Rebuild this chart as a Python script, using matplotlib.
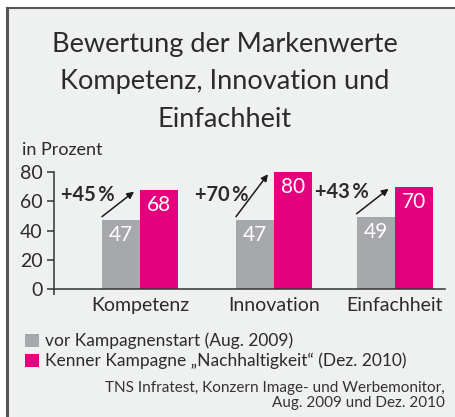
import numpy as np
import matplotlib.pyplot as plt
from matplotlib.lines import Line2D
from matplotlib.patches import Rectangle

plt.rcParams['font.family'] = ['Lato', 'DejaVu Sans']

categories = ['Kompetenz', 'Innovation', 'Einfachheit']
x_pos = np.array([0.0, 1.0, 1.9])
vor = [47, 47, 49]
kenner = [68, 80, 70]
change = ['+45\u2009%', '+70\u2009%', '+43\u2009%']
series_names = ['vor Kampagnenstart (Aug. 2009)',
                'Kenner Kampagne \u201eNachhaltigkeit\u201c (Dez. 2010)']
title = 'Bewertung der Markenwerte\nKompetenz, Innovation und\nEinfachheit'
source = 'TNS Infratest, Konzern Image- und Werbemonitor,\nAug. 2009 und Dez. 2010'

gray = '#a7a8ab'
pink = '#e5007d'
txt = '#2b2b2b'
bg = '#eef1f0'

W, H = 455, 417
fig = plt.figure(figsize=(W / 100, H / 100), dpi=100, facecolor='white')

# panel with left and top border
fig.patches.append(Rectangle((7 / W, 0), 1, 1 - 8 / H, transform=fig.transFigure,
                             facecolor=bg, edgecolor='none', zorder=-10))
fig.lines.append(Line2D([7 / W, 7 / W], [0, 1 - 8 / H], transform=fig.transFigure,
                        color='#555555', lw=2.2))
fig.lines.append(Line2D([7 / W, 1], [1 - 8 / H, 1 - 8 / H], transform=fig.transFigure,
                        color='#555555', lw=1.5))

fig.text(225 / W, 1 - 32 / H, title, ha='center', va='top', fontsize=19.5,
         color=txt, linespacing=1.62)
fig.text(22 / W, 1 - 150 / H, 'in Prozent', ha='left', va='center', fontsize=13, color=txt)

ax = fig.add_axes([54 / W, 1 - 288.7 / H, (445 - 54) / W, (288.7 - 172.3) / H])
ax.set_facecolor('none')
w = 0.284
b1 = ax.bar(x_pos - w / 2, vor, w, color=gray, label=series_names[0], clip_on=False)
b2 = ax.bar(x_pos + w / 2, kenner, w, color=pink, label=series_names[1], clip_on=False)

for xi, v in zip(x_pos - w / 2, vor):
    ax.text(xi, v - 3.5, str(v), ha='center', va='top', color='white', fontsize=15)
for xi, v in zip(x_pos + w / 2, kenner):
    ax.text(xi, v - 3.5, str(v), ha='center', va='top', color='white', fontsize=15)

for xi, v0, v1, lab in zip(x_pos, vor, kenner, change):
    ax.annotate('', xy=(xi - 0.045, v1 - 1.3), xytext=(xi - w, v0 + 2.5),
                arrowprops=dict(arrowstyle='-|>', color='#1a1a1a', lw=1.1,
                                mutation_scale=10, shrinkA=0, shrinkB=0),
                annotation_clip=False)
    ax.text(xi - 0.39, v0 + 17.5, lab, ha='center', va='center', fontsize=14.5,
            fontweight='bold', color=txt)

ax.set_xlim(-0.642, 2.276)
ax.set_ylim(0, 80)
ax.set_yticks([0, 20, 40, 60, 80])
ax.set_xticks(x_pos)
ax.set_xticklabels(categories)
ax.set_xticks([-0.642], minor=True)
ax.tick_params(axis='x', which='major', length=0, pad=6, labelsize=14, labelcolor=txt)
ax.tick_params(axis='x', which='minor', length=4, direction='out', color='#333333', width=1.1)
ax.tick_params(axis='y', length=5, width=1.1, color='#333333', pad=3,
               labelsize=14, labelcolor=txt)
for s in ['top', 'right']:
    ax.spines[s].set_visible(False)
for s in ['left', 'bottom']:
    ax.spines[s].set_color('#333333')
    ax.spines[s].set_linewidth(1.1)

fig.legend(handles=[b1, b2], loc='upper left', bbox_to_anchor=(16 / W, 1 - 324 / H),
           frameon=False, fontsize=12.5, handlelength=0.8, handleheight=0.8,
           handletextpad=0.35, labelspacing=0.2, borderpad=0, labelcolor=txt)

fig.text(445 / W, 1 - 381 / H, source, ha='right', va='top', fontsize=11,
         color='#333333', linespacing=1.1, multialignment='right')

fig.savefig('out.png', dpi=100, facecolor='white')
